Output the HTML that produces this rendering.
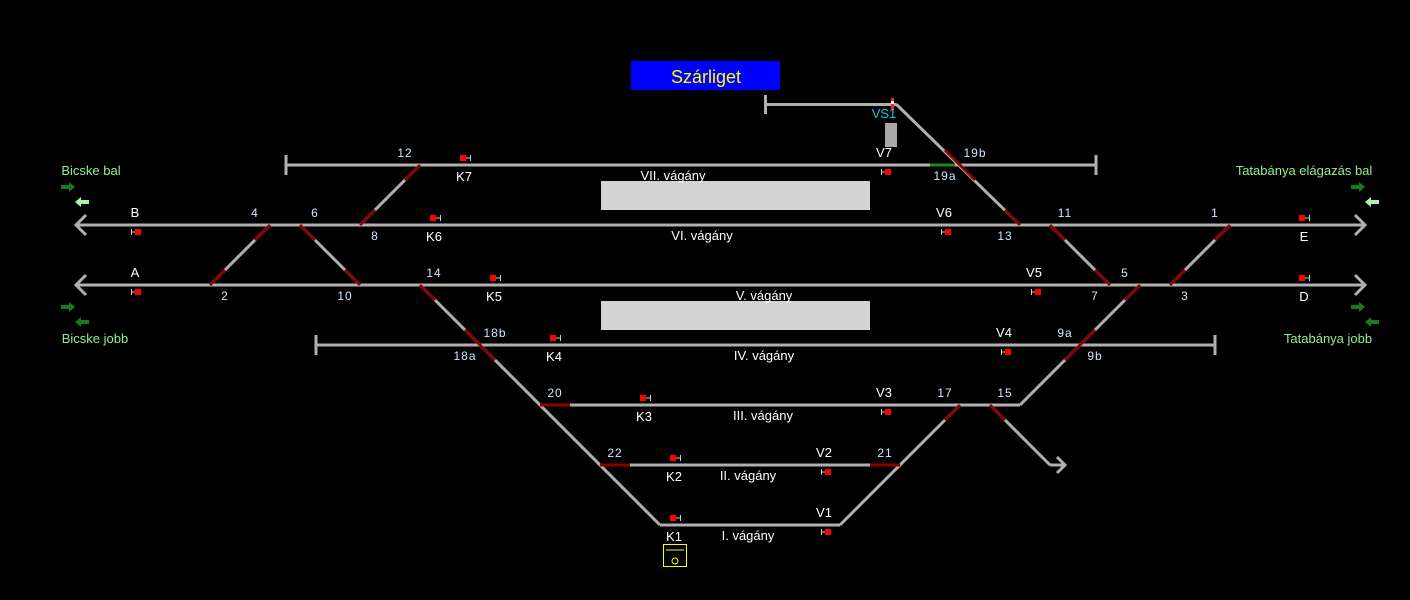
<!DOCTYPE html>
<html><head><meta charset="utf-8"><style>
html,body{margin:0;padding:0;background:#000;width:1410px;height:600px;overflow:hidden}
svg{display:block}
text{font-family:"Liberation Sans",sans-serif;font-size:13px;fill:#fff;text-anchor:middle}
.n{fill:#cfe8ff;font-size:12px;letter-spacing:1px}
.g{fill:#90ee90;font-size:13px}
</style></head><body>
<svg width="1410" height="600" viewBox="0 0 1410 600" xmlns="http://www.w3.org/2000/svg">
<g stroke="#b0b0b0" stroke-width="3" fill="none">
<line x1="765" y1="104.5" x2="896" y2="104.5"/><line x1="765.5" y1="95" x2="765.5" y2="114"/>
<line x1="896" y1="104" x2="1020" y2="225"/>
<line x1="286" y1="165" x2="1095" y2="165"/><line x1="286" y1="155" x2="286" y2="175"/><line x1="1096" y1="155" x2="1096" y2="175"/>
<line x1="76" y1="225" x2="1365" y2="225"/>
<polyline points="86,215 76,225 86,235"/><polyline points="1355,215 1365,225 1355,235"/>
<line x1="76" y1="285" x2="1365" y2="285"/>
<polyline points="86,275 76,285 86,295"/><polyline points="1355,275 1365,285 1355,295"/>
<line x1="316" y1="345" x2="1215" y2="345"/><line x1="316" y1="335" x2="316" y2="355"/><line x1="1215" y1="335" x2="1215" y2="355"/>
<line x1="540" y1="405" x2="1020" y2="405"/>
<line x1="1020" y1="405" x2="1140" y2="285"/>
<line x1="990" y1="405" x2="1050" y2="465"/><line x1="1050" y1="465" x2="1065" y2="465"/>
<polyline points="1057,457 1065,465 1057,473"/>
<line x1="600" y1="465" x2="900" y2="465"/>
<line x1="660" y1="525" x2="840" y2="525"/>
<line x1="420" y1="285" x2="660" y2="525"/>
<line x1="840" y1="525" x2="960" y2="405"/>
<line x1="210" y1="285" x2="270" y2="225"/>
<line x1="300" y1="225" x2="360" y2="285"/>
<line x1="360" y1="225" x2="420" y2="165"/>
<line x1="1050" y1="225" x2="1110" y2="285"/>
<line x1="1230" y1="225" x2="1170" y2="285"/>
</g>
<g stroke="#8b0000" stroke-width="3">
<line x1="210" y1="285" x2="225" y2="270"/><line x1="255" y1="240" x2="270" y2="225"/>
<line x1="300" y1="225" x2="315" y2="240"/><line x1="345" y1="270" x2="360" y2="285"/>
<line x1="360" y1="225" x2="375" y2="210"/><line x1="405" y1="180" x2="420" y2="165"/>
<line x1="420" y1="285" x2="435" y2="300"/><line x1="465" y1="330" x2="495" y2="360"/>
<line x1="1050" y1="225" x2="1065" y2="240"/><line x1="1095" y1="270" x2="1110" y2="285"/>
<line x1="1230" y1="225" x2="1215" y2="240"/><line x1="1185" y1="270" x2="1170" y2="285"/>
<line x1="1140" y1="285" x2="1125" y2="300"/><line x1="1095" y1="330" x2="1065" y2="360"/>
<line x1="945" y1="150" x2="975" y2="180"/><line x1="1005" y1="210" x2="1020" y2="225"/>
<line x1="540" y1="405" x2="570" y2="405"/>
<line x1="600" y1="465" x2="630" y2="465"/>
<line x1="870" y1="465" x2="900" y2="465"/>
<line x1="960" y1="405" x2="945" y2="420"/>
<line x1="990" y1="405" x2="1005" y2="420"/>
</g>
<line x1="930" y1="165" x2="955" y2="165" stroke="#1a8a1a" stroke-width="3"/>
<rect x="601" y="181" width="269" height="29" fill="#d3d3d3"/>
<rect x="601" y="301" width="269" height="29" fill="#d3d3d3"/>
<rect x="631" y="61" width="149" height="29" fill="#0000ff"/>
<text x="706" y="83" style="fill:#ffff00;font-size:18px">Szárliget</text>
<rect x="885" y="123" width="12" height="24" fill="#a8a8a8"/>
<rect x="891" y="98" width="3" height="12" fill="#ff2020"/><rect x="891" y="101" width="3" height="3" fill="#fff"/>
<text x="884" y="118" style="fill:#00d0e0;font-size:13px">VS1</text>
<g fill="#ff0000">
<rect x="460" y="155" width="6" height="6"/><rect x="430" y="215" width="6" height="6"/><rect x="490" y="275" width="6" height="6"/>
<rect x="550" y="335" width="6" height="6"/><rect x="640" y="395" width="6" height="6"/><rect x="670" y="455" width="6" height="6"/>
<rect x="670" y="515" width="6" height="6"/><rect x="1299" y="215" width="6" height="6"/><rect x="1299" y="275" width="6" height="6"/>
<rect x="885" y="169" width="6" height="6"/><rect x="945" y="229" width="6" height="6"/><rect x="1035" y="289" width="6" height="6"/>
<rect x="1005" y="349" width="6" height="6"/><rect x="885" y="409" width="6" height="6"/><rect x="825" y="469" width="6" height="6"/>
<rect x="825" y="529" width="6" height="6"/><rect x="135" y="229" width="6" height="6"/><rect x="135" y="289" width="6" height="6"/>
</g>
<g stroke="#ccc" stroke-width="1">
<path d="M466 158h4M470.5 155v6M436 218h4M440.5 215v6M496 278h4M500.5 275v6M556 338h4M560.5 335v6M646 398h4M650.5 395v6M676 458h4M680.5 455v6M676 518h4M680.5 515v6M1305 218h4M1309.5 215v6M1305 278h4M1309.5 275v6"/>
<path d="M885 172h-4M881.5 169v6M945 232h-4M941.5 229v6M1035 292h-4M1031.5 289v6M1005 352h-4M1001.5 349v6M885 412h-4M881.5 409v6M825 472h-4M821.5 469v6M825 532h-4M821.5 529v6M135 232h-4M131.5 229v6M135 292h-4M131.5 289v6"/>
</g>
<rect x="663.5" y="544.5" width="23" height="22" fill="none" stroke="#ffff00" stroke-width="1"/>
<line x1="666" y1="550" x2="684" y2="550" stroke="#ffff00"/>
<circle cx="675" cy="561" r="3" fill="none" stroke="#ffff00"/>
<g>
<path d="M61 185h8v-3l6 5-6 5v-3h-8z" fill="#1a7a1a"/>
<path d="M89 200h-8v-3l-6 5 6 5v-3h8z" fill="#b0f0b0"/>
<path d="M61 305h8v-3l6 5-6 5v-3h-8z" fill="#1a7a1a"/>
<path d="M89 320h-8v-3l-6 5 6 5v-3h8z" fill="#1a7a1a"/>
<path d="M1351 185h8v-3l6 5-6 5v-3h-8z" fill="#1a7a1a"/>
<path d="M1379 200h-8v-3l-6 5 6 5v-3h8z" fill="#b0f0b0"/>
<path d="M1351 305h8v-3l6 5-6 5v-3h-8z" fill="#1a7a1a"/>
<path d="M1379 320h-8v-3l-6 5 6 5v-3h8z" fill="#1a7a1a"/>
</g>
<text class="g" x="91" y="175">Bicske bal</text>
<text class="g" x="95" y="343">Bicske jobb</text>
<text class="g" x="1304" y="175">Tatabánya elágazás bal</text>
<text class="g" x="1328" y="343">Tatabánya jobb</text>
<text class="n" x="405" y="157">12</text><text x="464" y="181">K7</text><text x="673" y="180">VII. vágány</text><text x="884" y="157">V7</text><text class="n" x="975" y="157">19b</text><text class="n" x="945" y="180">19a</text>
<text x="135" y="217">B</text><text class="n" x="255" y="217">4</text><text class="n" x="315" y="217">6</text><text class="n" x="375" y="240">8</text><text x="434" y="241">K6</text><text x="702" y="240">VI. vágány</text><text x="944" y="217">V6</text><text class="n" x="1005" y="240">13</text><text class="n" x="1065" y="217">11</text><text class="n" x="1215" y="217">1</text><text x="1304" y="241">E</text>
<text x="135" y="277">A</text><text class="n" x="225" y="300">2</text><text class="n" x="345" y="300">10</text><text class="n" x="434" y="277">14</text><text x="494" y="301">K5</text><text x="764" y="300">V. vágány</text><text x="1034" y="277">V5</text><text class="n" x="1095" y="300">7</text><text class="n" x="1125" y="277">5</text><text class="n" x="1185" y="300">3</text><text x="1304" y="301">D</text>
<text class="n" x="495" y="337">18b</text><text class="n" x="465" y="360">18a</text><text x="554" y="361">K4</text><text x="764" y="360">IV. vágány</text><text x="1004" y="337">V4</text><text class="n" x="1065" y="337">9a</text><text class="n" x="1095" y="360">9b</text>
<text class="n" x="555" y="397">20</text><text x="644" y="421">K3</text><text x="763" y="420">III. vágány</text><text x="884" y="397">V3</text><text class="n" x="945" y="397">17</text><text class="n" x="1005" y="397">15</text>
<text class="n" x="615" y="457">22</text><text x="674" y="481">K2</text><text x="748" y="480">II. vágány</text><text x="824" y="457">V2</text><text class="n" x="885" y="457">21</text>
<text x="674" y="541">K1</text><text x="748" y="540">I. vágány</text><text x="824" y="517">V1</text>
</svg>
</body></html>
